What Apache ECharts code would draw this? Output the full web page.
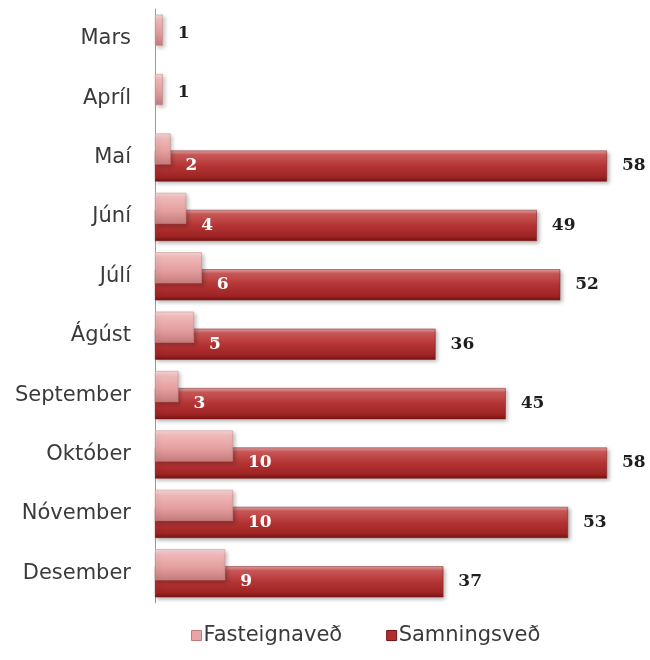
<!DOCTYPE html>
<html>
<head>
<meta charset="utf-8">
<script src="https://cdn.jsdelivr.net/npm/echarts@6/dist/echarts.min.js"></script>
<style>
  html, body { margin: 0; padding: 0; background: #ffffff; }
  #chart { width: 650px; height: 660px; }
</style>
</head>
<body>
<div id="chart"></div>
<script>
// Months shown on the category axis, top to bottom
var categories = ['Mars', 'Apríl', 'Maí', 'Júní', 'Júlí', 'Ágúst', 'September', 'Október', 'Nóvember', 'Desember'];
// Number of registrations per month for each kind of security
var fasteignaved = [1, 1, 2, 4, 6, 5, 3, 10, 10, 9];
var samningsved = [null, null, 58, 49, 52, 36, 45, 58, 53, 37];
var seriesNames = ['Fasteignaveð', 'Samningsveð'];

var chart = echarts.init(document.getElementById('chart'));

function vGrad(stops) {
  return new echarts.graphic.LinearGradient(0, 0, 0, 1, stops.map(function (s) {
    return { offset: s[0], color: s[1] };
  }));
}

var pinkFill = vGrad([[0, '#f7d6d6'], [0.18, '#efb7b7'], [0.6, '#e49d9d'], [1, '#c57b7b']]);
var redFill = vGrad([[0, '#e6a4a4'], [0.14, '#c95757'], [0.5, '#b43434'], [0.85, '#9f2424'], [1, '#781313']]);

var valueFont = { fontFamily: 'DejaVu Serif', fontWeight: 'bold', fontSize: 17 };

// Light bars carry a white label sitting on the dark bar below them,
// unless that month has no dark bar, in which case the label is dark.
var pinkData = fasteignaved.map(function (v, i) {
  var onDark = samningsved[i] != null;
  return {
    value: v,
    label: onDark
      ? { color: '#ffffff', offset: [0, 17] }
      : { color: '#1e1e1e', offset: [0, 3] }
  };
});

var option = {
  animation: false,
  grid: { left: 155, top: 9, height: 594, right: 43 },
  xAxis: {
    type: 'value',
    min: 0,
    max: 58,
    show: false
  },
  yAxis: {
    type: 'category',
    data: categories,
    inverse: true,
    axisLine: { show: true, lineStyle: { color: '#9a9a9a', width: 1 } },
    axisTick: { show: false },
    axisLabel: {
      margin: 24,
      fontFamily: 'DejaVu Sans',
      fontSize: 21,
      color: '#3a3a3a'
    }
  },
  legend: {
    top: 620,
    left: 186,
    itemWidth: 10,
    itemHeight: 10,
    itemGap: 44,
    icon: 'rect',
    textStyle: { fontFamily: 'DejaVu Sans', fontSize: 21, color: '#3a3a3a', padding: [0, 0, 0, -3] },
    data: [
      { name: seriesNames[0], itemStyle: { color: '#e8a5a5', borderColor: '#c27a7a', borderWidth: 1 } },
      { name: seriesNames[1], itemStyle: { color: '#b32f2f', borderColor: '#7a1414', borderWidth: 1 } }
    ]
  },
  series: [
    {
      name: seriesNames[0],
      type: 'bar',
      z: 3,
      barWidth: 31,
      barGap: '-45%',
      data: pinkData,
      itemStyle: {
        color: pinkFill,
        borderColor: '#c98a8a',
        borderWidth: 0.5,
        shadowColor: 'rgba(0,0,0,0.25)',
        shadowBlur: 4,
        shadowOffsetX: 2,
        shadowOffsetY: 2
      },
      label: Object.assign({ show: true, position: 'right', distance: 15 }, valueFont)
    },
    {
      name: seriesNames[1],
      type: 'bar',
      z: 2,
      barWidth: 31,
      data: samningsved,
      itemStyle: {
        color: redFill,
        borderColor: '#7e1a1a',
        borderWidth: 0.5,
        shadowColor: 'rgba(0,0,0,0.3)',
        shadowBlur: 4,
        shadowOffsetX: 2,
        shadowOffsetY: 2
      },
      label: Object.assign({ show: true, position: 'right', distance: 15, color: '#1e1e1e' }, valueFont)
    }
  ]
};

chart.setOption(option);
</script>
</body>
</html>
